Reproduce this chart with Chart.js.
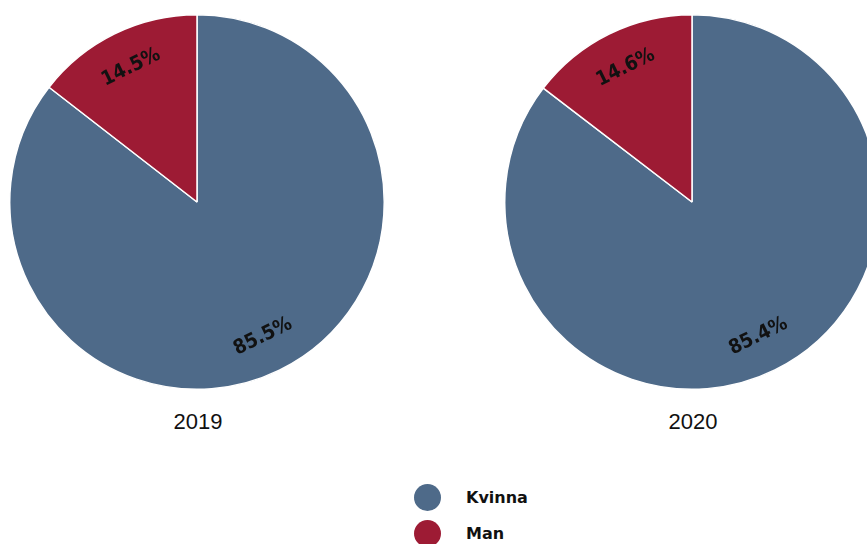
<!DOCTYPE html>
<html>
<head>
<meta charset="utf-8">
<script src="https://cdn.jsdelivr.net/npm/chart.js@4.4.1/dist/chart.umd.min.js"></script>
<style>
  html, body { margin: 0; padding: 0; background: #fff; overflow: hidden; }
  #page { position: relative; width: 867px; height: 544px; overflow: hidden; }
  .pie { position: absolute; top: 14px; width: 376px; height: 376px; }
  .year { position: absolute; top: 409px; width: 200px; text-align: center;
          font-family: "Liberation Sans", Arial, sans-serif; font-size: 22px; color: #111; }
  #legend { position: absolute; left: 414px; top: 479px; font-family: "DejaVu Sans", sans-serif;
            font-weight: bold; font-size: 16px; color: #111; }
  .item { height: 36px; display: flex; align-items: center; }
  .dot { width: 27px; height: 27px; border-radius: 50%; margin-right: 25px; }
</style>
</head>
<body>
<div id="page">
  <div class="pie" style="left:9px"><canvas id="pie2019"></canvas></div>
  <div class="pie" style="left:504px"><canvas id="pie2020"></canvas></div>
  <div class="year" style="left:98px">2019</div>
  <div class="year" style="left:593px">2020</div>
  <div id="legend"></div>
</div>
<script>
var categories = ["Kvinna", "Man"];
var years = ["2019", "2020"];
var values2019 = [85.5, 14.5];
var values2020 = [85.4, 14.6];
var sliceColors = ["#4e6a89", "#9d1b34"];

// rotated percentage labels, tangent to the slice middle
var sliceLabels = {
  id: "sliceLabels",
  afterDatasetsDraw: function (chart) {
    var ctx = chart.ctx;
    var meta = chart.getDatasetMeta(0);
    var data = chart.data.datasets[0].data;
    meta.data.forEach(function (arc, i) {
      var mid = (arc.startAngle + arc.endAngle) / 2;
      var dist = arc.outerRadius * 0.8;
      var x = arc.x + Math.cos(mid) * dist;
      var y = arc.y + Math.sin(mid) * dist;
      ctx.save();
      ctx.translate(x, y);
      ctx.rotate(mid + Math.PI / 2 + (mid > 0 && mid < Math.PI ? Math.PI : 0));
      ctx.font = "bold 20px 'DejaVu Sans Condensed', 'DejaVu Sans', sans-serif";
      ctx.fillStyle = "#111";
      ctx.textAlign = "center";
      ctx.textBaseline = "middle";
      ctx.fillText(data[i].toFixed(1) + "%", 0, 0);
      ctx.restore();
    });
  },
};

function drawPie(id, values) {
  new Chart(document.getElementById(id), {
    type: "pie",
    data: {
      labels: categories,
      datasets: [
        {
          data: values,
          backgroundColor: sliceColors,
          borderColor: "#ffffff",
          borderWidth: 1.5,
        },
      ],
    },
    options: {
      responsive: true,
      maintainAspectRatio: false,
      animation: false,
      layout: { padding: 0 },
      plugins: {
        legend: { display: false },
        tooltip: { enabled: false },
      },
    },
    plugins: [sliceLabels],
  });
}

drawPie("pie2019", values2019);
drawPie("pie2020", values2020);

var legend = document.getElementById("legend");
categories.forEach(function (name, i) {
  var item = document.createElement("div");
  item.className = "item";
  item.innerHTML = '<span class="dot" style="background:' + sliceColors[i] + '"></span>' + name;
  legend.appendChild(item);
});
</script>
</body>
</html>
